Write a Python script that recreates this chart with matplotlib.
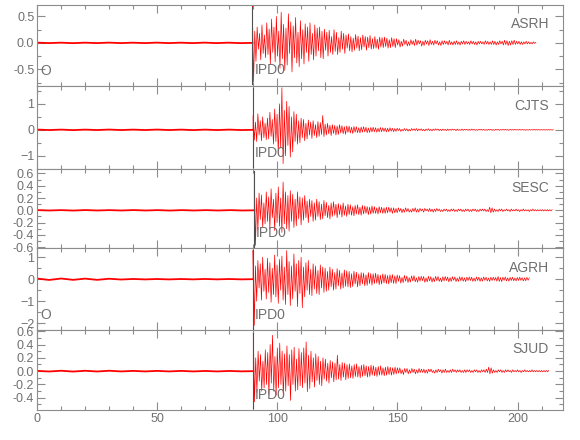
import matplotlib
matplotlib.use('Agg')
import matplotlib.pyplot as plt
import numpy as np
from matplotlib import font_manager
from matplotlib.ticker import MultipleLocator, FormatStrFormatter

# station names, top to bottom
stations = ['ASRH', 'CJTS', 'SESC', 'AGRH', 'SJUD']

# P pick time (s) per station, sample step of the traces after it
onsets = [89.6, 89.9, 90.4, 89.9, 90.0]
step = 0.5

# pre-event noise, spread from 0 s to the pick (ends at zero on the pick)
asrh_noise = [0.005, -0.004, 0.004, -0.005, 0.004, -0.004, 0.005, -0.004, 0.004,
              -0.004, 0.005, -0.004, 0.004, -0.004, 0.005, -0.004, 0.004, -0.004, 0.0]
cjts_noise = [0.01, -0.008, 0.008, -0.01, 0.008, -0.008, 0.01, -0.008, 0.008,
              -0.008, 0.01, -0.008, 0.008, -0.01, 0.008, -0.008, 0.008, -0.008, 0.0]
sesc_noise = [0.004, -0.003, 0.003, -0.004, 0.004, -0.003, 0.003, -0.003, 0.004,
              -0.003, 0.003, -0.004, 0.003, -0.003, 0.003, -0.003, 0.003, -0.003, 0.0]
agrh_noise = [0.03, -0.035, 0.03, -0.03, 0.025, -0.03, 0.02, -0.015, 0.01,
              -0.01, 0.008, -0.01, 0.008, -0.008, 0.01, -0.008, 0.008, -0.008, 0.0]
sjud_noise = [0.004, -0.005, 0.006, -0.006, 0.006, -0.005, 0.006, -0.004, 0.004,
              -0.004, 0.004, -0.004, 0.004, -0.004, 0.003, -0.004, 0.003, -0.003, 0.0]

# signed peaks every 0.5 s, first 60 s after the pick
asrh_burst = [0.70, -0.74, 0.22, -0.35, 0.30, -0.12, 0.18, -0.32, 0.34, -0.20,
              0.15, -0.28, 0.38, -0.22, 0.26, -0.40, 0.45, -0.18, 0.30, -0.36,
              0.50, -0.25, 0.22, -0.48, 0.58, -0.30, 0.35, -0.52, 0.28, -0.42,
              0.55, -0.20, 0.40, -0.55, 0.32, -0.28, 0.48, -0.38, 0.20, -0.45,
              0.42, -0.30, 0.25, -0.40, 0.36, -0.18, 0.30, -0.35, 0.38, -0.22,
              0.18, -0.32, 0.34, -0.25, 0.28, -0.15, 0.30, -0.28, 0.22, -0.30,
              0.26, -0.14, 0.20, -0.25, 0.24, -0.18, 0.12, -0.22, 0.25, -0.16,
              0.20, -0.22, 0.10, -0.18, 0.22, -0.12, 0.18, -0.20, 0.15, -0.10,
              0.17, -0.15, 0.12, -0.17, 0.09, -0.14, 0.16, -0.10, 0.13, -0.15,
              0.10, -0.13, 0.15, -0.08, 0.12, -0.14, 0.11, -0.09, 0.14, -0.12,
              0.08, -0.11, 0.12, -0.10, 0.07, -0.12, 0.11, -0.08, 0.10, -0.09,
              0.11, -0.07, 0.09, -0.10, 0.06, -0.09, 0.10, -0.07, 0.08, -0.09]
cjts_burst = [0.55, -0.40, 0.30, -0.45, 0.62, -0.20, 0.35, -0.42, 0.50, -0.30,
              0.25, -0.38, 0.45, -0.35, 0.68, -0.25, 0.40, -0.55, 0.80, -0.45,
              0.60, -0.95, 1.00, -0.70, 1.62, -1.30, 0.75, -1.00, 1.10, -0.60,
              0.90, -1.05, 0.50, -0.85, 0.70, -0.45, 0.60, -0.55, 0.35, -0.50,
              0.45, -0.30, 0.40, -0.42, 0.25, -0.35, 0.38, -0.20, 0.30, -0.33,
              0.35, -0.22, 0.20, -0.30, 0.32, -0.25, 0.28, -0.18, 0.55, -0.26,
              0.22, -0.20, 0.25, -0.15, 0.18, -0.22, 0.20, -0.14, 0.17, -0.20,
              0.15, -0.18, 0.20, -0.12, 0.16, -0.15, 0.12, -0.17, 0.15, -0.10,
              0.14, -0.12, 0.10, -0.14, 0.13, -0.09, 0.12, -0.11, 0.08, -0.12,
              0.11, -0.09, 0.12, -0.08, 0.10, -0.11, 0.07, -0.10, 0.09, -0.08,
              0.10, -0.07, 0.08, -0.09, 0.06, -0.08, 0.09, -0.07, 0.08, -0.06,
              0.07, -0.08, 0.06, -0.07, 0.08, -0.05, 0.06, -0.07, 0.05, -0.06]
sesc_burst = [0.63, -0.57, 0.20, -0.32, 0.28, -0.15, 0.25, -0.28, 0.12, -0.22,
              0.30, -0.18, 0.22, -0.30, 0.35, -0.12, 0.18, -0.33, 0.28, -0.20,
              0.38, -0.26, 0.20, -0.36, 0.46, -0.22, 0.30, -0.30, 0.24, -0.34,
              0.32, -0.18, 0.26, -0.28, 0.18, -0.25, 0.30, -0.14, 0.22, -0.24,
              0.20, -0.16, 0.24, -0.12, 0.15, -0.20, 0.18, -0.10, 0.16, -0.18,
              0.12, -0.16, 0.18, -0.10, 0.14, -0.15, 0.10, -0.14, 0.16, -0.09,
              0.13, -0.12, 0.08, -0.14, 0.12, -0.10, 0.14, -0.08, 0.10, -0.12,
              0.11, -0.07, 0.09, -0.11, 0.12, -0.08, 0.07, -0.10, 0.10, -0.07,
              0.09, -0.08, 0.06, -0.09, 0.08, -0.06, 0.09, -0.07, 0.05, -0.08,
              0.08, -0.06, 0.07, -0.05, 0.06, -0.07, 0.05, -0.06, 0.07, -0.05,
              0.06, -0.05, 0.04, -0.06, 0.06, -0.04, 0.05, -0.05, 0.04, -0.05,
              0.05, -0.04, 0.05, -0.03, 0.04, -0.05, 0.04, -0.04, 0.03, -0.04]
agrh_burst = [1.32, -2.10, 0.60, -1.00, 0.85, -0.40, 0.70, -0.95, 1.00, -0.55,
              0.45, -0.90, 0.95, -0.60, 0.75, -1.05, 0.50, -0.70, 1.10, -0.80,
              0.65, -1.10, 0.90, -0.50, 1.05, -0.95, 0.55, -1.15, 1.30, -0.70,
              0.80, -1.20, 0.60, -0.90, 1.15, -0.55, 0.70, -1.25, 0.85, -0.65,
              1.00, -1.30, 0.55, -0.80, 0.75, -0.50, 0.85, -0.70, 0.45, -0.75,
              0.70, -0.45, 0.60, -0.65, 0.40, -0.70, 0.65, -0.40, 0.55, -0.60,
              0.50, -0.55, 0.35, -0.50, 0.55, -0.35, 0.45, -0.50, 0.30, -0.45,
              0.48, -0.30, 0.40, -0.45, 0.28, -0.40, 0.42, -0.32, 0.38, -0.35,
              0.35, -0.38, 0.25, -0.34, 0.36, -0.22, 0.32, -0.35, 0.24, -0.30,
              0.30, -0.22, 0.28, -0.30, 0.20, -0.28, 0.30, -0.20, 0.26, -0.27,
              0.25, -0.20, 0.27, -0.18, 0.22, -0.25, 0.18, -0.22, 0.24, -0.17,
              0.22, -0.20, 0.17, -0.22, 0.20, -0.16, 0.21, -0.19, 0.15, -0.20]
sjud_burst = [0.57, -0.46, 0.20, -0.32, 0.30, -0.15, 0.25, -0.30, 0.15, -0.25,
              0.32, -0.20, 0.28, -0.35, 0.40, -0.18, 0.54, -0.30, 0.22, -0.36,
              0.35, -0.25, 0.42, -0.20, 0.30, -0.38, 0.26, -0.30, 0.38, -0.22,
              0.25, -0.44, 0.32, -0.20, 0.36, -0.30, 0.18, -0.28, 0.34, -0.22,
              0.28, -0.25, 0.35, -0.18, 0.44, -0.31, 0.24, -0.26, 0.30, -0.16,
              0.20, -0.24, 0.26, -0.14, 0.22, -0.20, 0.15, -0.22, 0.20, -0.12,
              0.18, -0.15, 0.12, -0.18, 0.16, -0.10, 0.14, -0.16, 0.12, -0.13,
              0.24, -0.12, 0.10, -0.14, 0.13, -0.09, 0.12, -0.13, 0.10, -0.11,
              0.11, -0.10, 0.08, -0.11, 0.10, -0.08, 0.11, -0.09, 0.07, -0.10,
              0.09, -0.08, 0.10, -0.07, 0.08, -0.09, 0.07, -0.08, 0.09, -0.06,
              0.08, -0.07, 0.06, -0.08, 0.07, -0.06, 0.08, -0.06, 0.05, -0.07,
              0.06, -0.06, 0.07, -0.05, 0.06, -0.06, 0.05, -0.05, 0.06, -0.04]

# signed peaks every 0.5 s for the rest of the record
asrh_coda = [0.08, -0.04, 0.06, -0.08, 0.03, -0.06, 0.07, -0.03, 0.05, -0.06,
             0.02, -0.05, 0.06, -0.03, 0.04, -0.05, 0.07, -0.04, 0.05, -0.02,
             0.04, -0.06, 0.03, -0.05, 0.05, -0.02, 0.04, -0.05, 0.06, -0.03,
             0.03, -0.04, 0.05, -0.02, 0.04, -0.04, 0.02, -0.05, 0.04, -0.03,
             0.04, -0.02, 0.03, -0.04, 0.05, -0.03, 0.02, -0.04, 0.03, -0.03,
             0.04, -0.03, 0.02, -0.04, 0.03, -0.02, 0.04, -0.03, 0.03, -0.02,
             0.02, -0.03, 0.04, -0.02, 0.03, -0.03, 0.02, -0.04, 0.03, -0.02,
             0.03, -0.02, 0.02, -0.03, 0.04, -0.02, 0.03, -0.03, 0.02, -0.03,
             0.04, -0.03, 0.03, -0.04, 0.02, -0.03, 0.04, -0.02, 0.03, -0.04,
             0.05, -0.03, 0.04, -0.05, 0.03, -0.04, 0.04, -0.03, 0.05, -0.03,
             0.03, -0.02, 0.03, -0.03, 0.02, -0.03, 0.02, -0.02, 0.03, -0.02,
             0.02, -0.02, 0.01, -0.02, 0.02, -0.01, 0.01]
cjts_coda = [0.06, -0.03, 0.05, -0.06, 0.02, -0.04, 0.05, -0.03, 0.04, -0.05,
             0.02, -0.04, 0.05, -0.02, 0.04, -0.03, 0.05, -0.04, 0.03, -0.02,
             0.04, -0.03, 0.02, -0.04, 0.03, -0.02, 0.04, -0.03, 0.02, -0.04,
             0.03, -0.02, 0.04, -0.01, 0.03, -0.03, 0.02, -0.03, 0.03, -0.02,
             0.02, -0.03, 0.03, -0.02, 0.02, -0.02, 0.03, -0.01, 0.02, -0.03,
             0.03, -0.02, 0.01, -0.02, 0.03, -0.02, 0.02, -0.01, 0.02, -0.02,
             0.02, -0.02, 0.03, -0.01, 0.02, -0.02, 0.01, -0.02, 0.02, -0.01,
             0.02, -0.01, 0.02, -0.02, 0.01, -0.02, 0.02, -0.01, 0.02, -0.02,
             0.01, -0.02, 0.02, -0.01, 0.02, -0.02, 0.01, -0.01, 0.02, -0.01,
             0.02, -0.01, 0.01, -0.02, 0.02, -0.01, 0.01, -0.01, 0.02, -0.01,
             0.01, -0.01, 0.02, -0.01, 0.01, -0.01, 0.01, -0.02, 0.01, -0.01,
             0.01, -0.01, 0.01, -0.01, 0.02, -0.01, 0.01, -0.01, 0.01, -0.01,
             0.01, -0.01, 0.01, -0.01, 0.01, -0.01, 0.01, -0.01, 0.01, -0.01,
             0.01]
sesc_coda = [0.04, -0.02, 0.03, -0.04, 0.02, -0.03, 0.04, -0.02, 0.03, -0.03,
             0.01, -0.03, 0.03, -0.02, 0.04, -0.03, 0.02, -0.03, 0.03, -0.01,
             0.02, -0.03, 0.03, -0.01, 0.02, -0.02, 0.03, -0.02, 0.02, -0.03,
             0.02, -0.02, 0.03, -0.01, 0.02, -0.02, 0.01, -0.02, 0.02, -0.01,
             0.02, -0.02, 0.01, -0.02, 0.02, -0.01, 0.02, -0.02, 0.01, -0.02,
             0.02, -0.01, 0.02, -0.02, 0.01, -0.02, 0.02, -0.01, 0.02, -0.02,
             0.01, -0.02, 0.02, -0.01, 0.02, -0.02, 0.01, -0.02, 0.02, -0.01,
             0.02, -0.01, 0.02, -0.02, 0.01, -0.02, 0.05, -0.04, 0.04, -0.03,
             0.02, -0.02, 0.01, -0.02, 0.02, -0.01, 0.02, -0.02, 0.01, -0.01,
             0.02, -0.01, 0.01, -0.02, 0.02, -0.01, 0.01, -0.01, 0.02, -0.01,
             0.01, -0.02, 0.01, -0.01, 0.02, -0.01, 0.01, -0.01, 0.01, -0.02,
             0.01, -0.01, 0.02, -0.01, 0.01, -0.01, 0.01, -0.01, 0.01, -0.01,
             0.01, -0.01, 0.01, -0.01, 0.01, -0.01, 0.01, -0.01, 0.01]
agrh_coda = [0.19, -0.10, 0.16, -0.18, 0.08, -0.15, 0.17, -0.09, 0.14, -0.15,
             0.07, -0.13, 0.15, -0.08, 0.16, -0.12, 0.06, -0.14, 0.12, -0.09,
             0.13, -0.07, 0.12, -0.14, 0.06, -0.12, 0.13, -0.08, 0.11, -0.13,
             0.06, -0.11, 0.13, -0.07, 0.12, -0.10, 0.05, -0.12, 0.11, -0.08,
             0.12, -0.06, 0.10, -0.12, 0.07, -0.10, 0.11, -0.05, 0.10, -0.11,
             0.05, -0.10, 0.11, -0.07, 0.10, -0.09, 0.06, -0.11, 0.09, -0.06,
             0.10, -0.06, 0.09, -0.10, 0.05, -0.09, 0.10, -0.06, 0.09, -0.10,
             0.06, -0.09, 0.10, -0.05, 0.09, -0.08, 0.05, -0.10, 0.09, -0.06,
             0.09, -0.05, 0.08, -0.09, 0.12, -0.10, 0.07, -0.11, 0.09, -0.05,
             0.10, -0.08, 0.06, -0.09, 0.08, -0.06, 0.09, -0.07, 0.05, -0.08,
             0.08, -0.06, 0.09, -0.05, 0.07, -0.08, 0.06, -0.07, 0.08, -0.05,
             0.06]
sjud_coda = [0.05, -0.03, 0.05, -0.04, 0.02, -0.05, 0.04, -0.02, 0.04, -0.04,
             0.02, -0.03, 0.04, -0.02, 0.03, -0.04, 0.02, -0.03, 0.04, -0.02,
             0.03, -0.02, 0.03, -0.03, 0.02, -0.03, 0.03, -0.01, 0.03, -0.02,
             0.01, -0.03, 0.02, -0.02, 0.03, -0.01, 0.02, -0.03, 0.02, -0.02,
             0.03, -0.02, 0.01, -0.02, 0.02, -0.02, 0.03, -0.01, 0.02, -0.02,
             0.02, -0.01, 0.02, -0.02, 0.01, -0.02, 0.02, -0.02, 0.02, -0.01,
             0.02, -0.02, 0.01, -0.02, 0.02, -0.01, 0.02, -0.02, 0.01, -0.02,
             0.02, -0.01, 0.02, -0.02, 0.03, -0.02, 0.06, -0.04, 0.05, -0.03,
             0.02, -0.02, 0.01, -0.02, 0.02, -0.01, 0.02, -0.02, 0.01, -0.02,
             0.02, -0.01, 0.02, -0.01, 0.01, -0.02, 0.02, -0.01, 0.01, -0.01,
             0.02, -0.01, 0.01, -0.02, 0.01, -0.01, 0.02, -0.01, 0.01, -0.01,
             0.01, -0.01, 0.02, -0.01, 0.01, -0.01, 0.01, -0.01, 0.01, -0.01,
             0.01, -0.01, 0.01, -0.01, 0.01, -0.01, 0.01]

noises = [asrh_noise, cjts_noise, sesc_noise, agrh_noise, sjud_noise]
traces = [asrh_burst + asrh_coda, cjts_burst + cjts_coda, sesc_burst + sesc_coda,
          agrh_burst + agrh_coda, sjud_burst + sjud_coda]

# y limits and tick spacing per panel
ylims = [(-0.81, 0.72), (-1.49, 1.70), (-0.62, 0.68), (-2.32, 1.40), (-0.585, 0.615)]
ymajor = [0.5, 1.0, 0.2, 1.0, 0.2]
yminor = [0.25, 0.5, 0.1, 0.5, 0.1]
origin_panels = [0, 3]  # panels with the 'O' mark

GREY = '#8c8c8c'
TEXT = '#707070'


def pick_font():
    names = {f.name for f in font_manager.fontManager.ttflist}
    for name in ['Liberation Sans Narrow', 'Liberation Sans', 'DejaVu Sans']:
        if name in names:
            return name
    return 'DejaVu Sans'


def main():
    plt.rcParams['font.family'] = [pick_font(), 'DejaVu Sans']
    fig = plt.figure(figsize=(5.8, 4.4), dpi=100)
    gs = fig.add_gridspec(5, 1, height_ratios=[81, 83, 80, 82, 80], hspace=0,
                          left=0.064, right=0.971, bottom=0.068, top=0.989)

    axes = []
    for i in range(5):
        ax = fig.add_subplot(gs[i], sharex=axes[0] if axes else None)
        axes.append(ax)

        # noise before the pick, drawn a bit heavier so it reads as a fuzzy line
        t_pre = np.linspace(0, onsets[i], len(noises[i]))
        ax.plot(t_pre, noises[i], color='red', lw=1.3)

        t = onsets[i] + np.arange(len(traces[i])) * step
        ax.plot(np.concatenate([[onsets[i]], t]),
                np.concatenate([[0.0], traces[i]]), color='red', lw=0.5)

        ax.axvline(onsets[i], ymin=0.02, ymax=0.97, color='#505050', lw=0.8)
        ax.text(onsets[i] + 0.8, 0.19, 'IPD0', transform=ax.get_xaxis_transform(),
                ha='left', va='center', fontsize=10, color=TEXT)
        ax.text(0.973, 0.76, stations[i], transform=ax.transAxes,
                ha='right', va='center', fontsize=10, color=TEXT)
        if i in origin_panels:
            ax.text(1.5, 0.18, 'O', transform=ax.get_xaxis_transform(),
                    ha='left', va='center', fontsize=10, color=TEXT)

        ax.set_ylim(*ylims[i])
        ax.yaxis.set_major_locator(MultipleLocator(ymajor[i]))
        ax.yaxis.set_minor_locator(MultipleLocator(yminor[i]))
        if ymajor[i] < 1:
            ax.yaxis.set_major_formatter(FormatStrFormatter('%.1f'))
        ax.xaxis.set_major_locator(MultipleLocator(50))
        ax.xaxis.set_minor_locator(MultipleLocator(10))
        ax.tick_params(which='both', direction='in', top=True, right=True,
                       color=GREY, labelcolor=TEXT, labelsize=9, width=0.8, pad=2)
        ax.tick_params(which='major', length=6)
        ax.tick_params(which='minor', length=3)
        for s in ax.spines.values():
            s.set_color(GREY)
            s.set_linewidth(0.8)
        if i < 4:
            ax.tick_params(labelbottom=False)

    axes[0].set_xlim(0, 219)
    fig.savefig('out.png', dpi=100)


if __name__ == "__main__":
    main()
